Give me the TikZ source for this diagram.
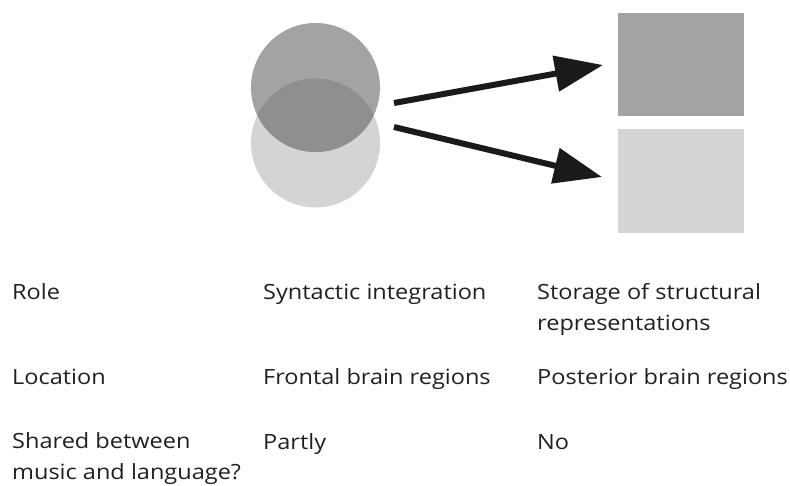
\documentclass[tikz,border=0pt]{standalone}
\usepackage{fontspec}
\setmainfont{Open Sans}[FakeStretch=1.12]
\usetikzlibrary{arrows.meta}
\definecolor{topgray}{HTML}{A3A3A3}
\definecolor{lowgray}{HTML}{D4D4D4}
\definecolor{overgray}{HTML}{8F8F8F}
\definecolor{arrowblack}{HTML}{1A1A1A}
\definecolor{inkgray}{HTML}{231F20}
\begin{document}
\begin{tikzpicture}[x=1pt,y=-1pt,
  txt/.style={anchor=base west, inner sep=0pt, align=left,
    font=\fontsize{21}{31}\selectfont, text=inkgray},
  disc/.style={circle, inner sep=0pt, minimum size=129pt},
  store/.style={rectangle, inner sep=0pt, minimum width=126pt, minimum height=103.5pt},
  link/.style={line width=6pt, draw=arrowblack,
    -{Triangle[length=48pt,width=35pt,fill=arrowblack]}}]
\useasboundingbox (0,0) rectangle (790,485);

% overlapping discs: integration process
\node[disc, fill=lowgray] (lower) at (315.5,143) {};
\node[disc, fill=topgray] (upper) at (315.5,87.5) {};
\begin{scope}
  \clip (lower.center) circle[radius=64.5pt];
  \fill[overgray] (upper.center) circle[radius=64.5pt];
\end{scope}

% storage boxes
\node[store, fill=topgray] (boxA) at (680.7,64.4) {};
\node[store, fill=lowgray] (boxB) at (680.7,180.8) {};

% arrows from discs to boxes
\coordinate (fromA) at (394,103);
\coordinate (toA) at (603,65);
\coordinate (fromB) at (394,127);
\coordinate (toB) at (602,177);
\draw[link] (fromA) -- (toA);
\draw[link] (fromB) -- (toB);

% table of properties (base anchor sits on the last line)
\node[txt] (role) at (12,299) {Role};
\node[txt] (loc) at (12,384) {Location};
\node[txt] (shared) at (12,479) {Shared between\\music and language?};

\node[txt] (roleA) at (263,299) {Syntactic integration};
\node[txt] (locA) at (263,384) {Frontal brain regions};
\node[txt] (sharedA) at (263,449) {Partly};

\node[txt] (roleB) at (537,330) {Storage of structural\\representations};
\node[txt] (locB) at (537,384) {Posterior brain regions};
\node[txt] (sharedB) at (537,449) {No};
\end{tikzpicture}
\end{document}
